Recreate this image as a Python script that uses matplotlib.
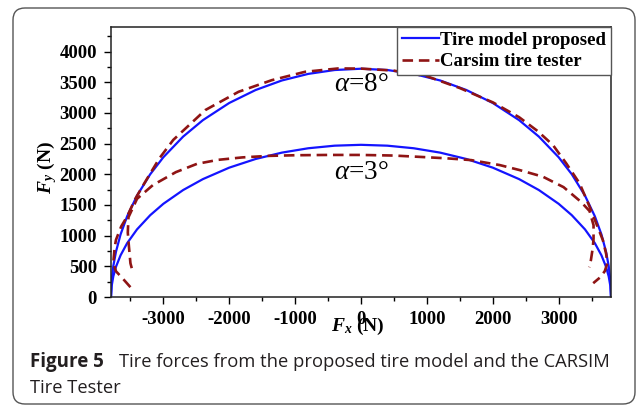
import numpy as np
import matplotlib
matplotlib.use("Agg")
import matplotlib.pyplot as plt
from matplotlib.patches import FancyBboxPatch
from matplotlib.ticker import MultipleLocator

plt.rcParams['font.family'] = 'Liberation Serif'
plt.rcParams['axes.unicode_minus'] = False
plt.rcParams['mathtext.fontset'] = 'custom'
plt.rcParams['mathtext.rm'] = 'Liberation Serif'
plt.rcParams['mathtext.it'] = 'Liberation Serif:italic'
plt.rcParams['mathtext.bf'] = 'Liberation Serif:bold:italic'

# proposed model, friction-ellipse shaped curves (N)
model_fx = [-3795, -3785, -3760, -3720, -3650, -3550, -3400, -3200, -3000, -2700,
            -2400, -2000, -1600, -1200, -800, -400, 0,
            400, 800, 1200, 1600, 2000, 2400, 2700, 3000, 3200, 3400, 3550,
            3650, 3720, 3760, 3785, 3795]
model_fy_8 = [0, 270, 504, 736, 1019, 1315, 1652, 2000, 2278, 2614,
              2882, 3162, 3373, 3529, 3636, 3699, 3720,
              3699, 3636, 3529, 3373, 3162, 2882, 2614, 2278, 2000, 1652, 1315,
              1019, 736, 504, 270, 0]
model_fy_3 = [0, 180, 336, 491, 679, 877, 1102, 1333, 1519, 1743,
              1921, 2108, 2249, 2353, 2424, 2466, 2480,
              2466, 2424, 2353, 2249, 2108, 1921, 1743, 1519, 1333, 1102, 877,
              679, 491, 336, 180, 0]

# CarSim tire tester output
carsim_fx_8 = [-3500, -3620, -3720, -3760, -3740, -3720, -3640, -3551, -3421, -3273,
               -3060, -2850, -2610, -2364, -1859, -1353, -848, -343, 0, 490,
               995, 1500, 2005, 2400, 2680, 2914, 3116, 3318, 3470, 3571,
               3671, 3722, 3740, 3700, 3630, 3525]
carsim_fy_8 = [160, 305, 420, 560, 800, 930, 1150, 1311, 1610, 1882,
               2260, 2560, 2800, 3046, 3344, 3534, 3670, 3725, 3722, 3690,
               3600, 3405, 3170, 2930, 2705, 2476, 2177, 1852, 1471, 1200,
               928, 700, 550, 420, 320, 225]
carsim_fx_3 = [-3480, -3500, -3525, -3540, -3530, -3400, -3160, -2810, -2490, -2170,
               -1800, -1400, -1000, -500, 0, 500, 864, 1300, 1672, 2106,
               2409, 2762, 3075, 3340, 3470, 3530, 3530, 3518, 3490, 3465]
carsim_fy_3 = [470, 550, 850, 1050, 1300, 1600, 1823, 2035, 2170, 2235,
               2275, 2300, 2310, 2315, 2315, 2305, 2285, 2260, 2231, 2150,
               2068, 1960, 1790, 1550, 1400, 1170, 950, 800, 600, 485]

fig = plt.figure(figsize=(6.37, 4.08), dpi=100)

# rounded caption frame
frame = FancyBboxPatch((0.13, 0.04), 6.22, 3.96,
                       boxstyle="round,pad=0,rounding_size=0.12",
                       transform=fig.dpi_scale_trans, fill=False,
                       edgecolor='#555555', linewidth=1.0)
fig.patches.append(frame)

ax = fig.add_axes([111 / 637, 1 - 297 / 408, 500 / 637, 270 / 408])

blue = '#1414ff'
red = '#8f1414'
ax.plot(model_fx, model_fy_8, color=blue, lw=1.6, label='Tire model proposed')
ax.plot(model_fx, model_fy_3, color=blue, lw=1.6)
ax.plot(carsim_fx_8, carsim_fy_8, color=red, lw=1.9, dashes=(4, 2.2),
        label='Carsim tire tester')
ax.plot(carsim_fx_3, carsim_fy_3, color=red, lw=1.9, dashes=(4, 2.2))

ax.set_xlim(-3795, 3795)
ax.set_ylim(0, 4400)
ax.xaxis.set_major_locator(MultipleLocator(1000))
ax.xaxis.set_minor_locator(MultipleLocator(500))
ax.yaxis.set_major_locator(MultipleLocator(500))
ax.yaxis.set_minor_locator(MultipleLocator(250))
ax.set_yticks([0, 500, 1000, 1500, 2000, 2500, 3000, 3500, 4000])
ax.set_xticks([-3000, -2000, -1000, 0, 1000, 2000, 3000])
ax.tick_params(which='major', direction='out', length=5, width=1, pad=5, labelsize=13.5)
ax.tick_params(which='minor', direction='out', length=3, width=1)
for lab in ax.get_xticklabels() + ax.get_yticklabels():
    lab.set_fontweight('bold')
for sp in ax.spines.values():
    sp.set_linewidth(1.1)
    sp.set_color('#222222')

ax.text(0.494, -0.108, r'$\mathbf{F_x}$ (N)', transform=ax.transAxes,
        ha='center', va='center', fontsize=14, fontweight='bold')
ax.text(-0.128, 0.48, r'$\mathbf{F_y}$ (N)', transform=ax.transAxes,
        ha='center', va='center', fontsize=14, fontweight='bold', rotation=90)

ax.text(-410, 3470, r'$\alpha$=8°', fontsize=19.5, va='center', ha='left')
ax.text(-410, 2030, r'$\alpha$=3°', fontsize=19.5, va='center', ha='left')

leg = ax.legend(loc='upper right', borderaxespad=0, fancybox=False,
                framealpha=1, edgecolor='#555555', handlelength=2.0,
                handletextpad=0.05, borderpad=0.25, labelspacing=0.22,
                prop={'family': 'Liberation Serif', 'weight': 'bold', 'size': 13.5})
leg.get_frame().set_linewidth(1.0)

cap_color = '#231f20'
fig.text(30 / 637, 1 - 367 / 408, 'Figure 5', fontsize=13.5, fontweight='bold',
         family='Open Sans', color=cap_color, va='baseline')
fig.text(119 / 637, 1 - 367 / 408,
         'Tire forces from the proposed tire model and the CARSIM',
         fontsize=13.2, family='Open Sans', color=cap_color, va='baseline')
fig.text(30 / 637, 1 - 393 / 408, 'Tire Tester', fontsize=13.2,
         family='Open Sans', color=cap_color, va='baseline')

fig.savefig('out.png', dpi=100)
